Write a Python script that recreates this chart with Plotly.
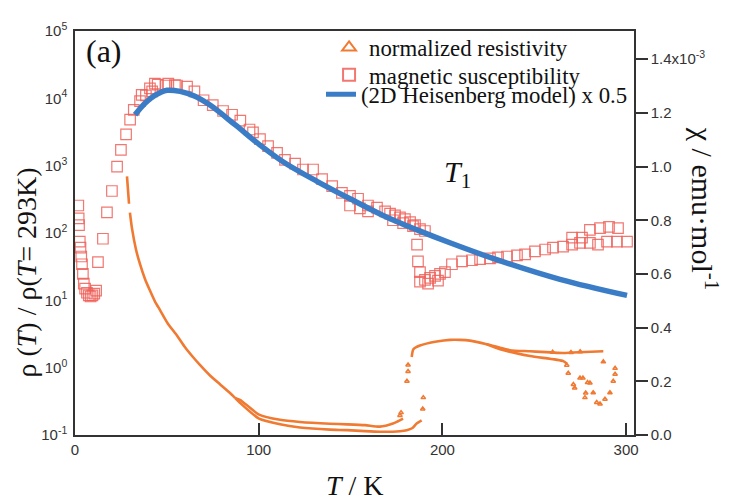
import plotly.graph_objects as go

# ---------------- data ----------------
# magnetic susceptibility (units of 1e-3 emu/mol)
chi_T = [1.8, 2.0, 2.2, 2.6, 3.0, 3.4, 3.8, 4.3, 4.8, 5.5, 6.5, 7.5, 8.5, 9.5, 10.5, 11.5,
         12.5, 15.2, 17.4, 20.1, 22.9, 25.0, 27.8, 30.0, 32.0, 35.4, 36.3, 38.6, 40.8, 42.0,
         43.5, 45.0, 49.5, 50.8, 54.4, 55.5, 61.0, 65.0, 70.0, 75.0, 80.6, 85.5, 90.0, 95.0,
         96.9, 100.7, 105.1, 110.0, 114.3, 119.8, 124.1, 129.6, 134.5, 140.0, 145.3, 149.7,
         149.7, 154.1, 155.1, 159.5, 159.5, 164.4, 168.8,
         171.5, 173.1, 174.2, 176.9, 178.6, 179.6, 182.4, 184.0, 185.1, 187.8, 190.5,
         186.2, 186.7, 187.8, 187.8, 190.5, 192.2, 193.3, 196.0, 197.6, 198.7, 201.4,
         205.2, 210.7, 216.1, 220.5, 225.9, 230.3, 235.2, 240.6, 245.0, 250.4, 255.9, 260.2,
         265.7, 270.6, 274.9, 280.3, 284.7, 289.6, 295.0, 300.5,
         270.6, 276.0, 280.3, 285.8, 290.7, 295.6]
chi_vals = [0.855, 0.807, 0.782, 0.720, 0.698, 0.665, 0.636, 0.600, 0.564, 0.545, 0.530, 0.520, 0.516, 0.520, 0.527, 0.538,
            0.644, 0.731, 0.829, 0.909, 1.000, 1.062, 1.120, 1.175, 1.211, 1.244, 1.267, 1.265, 1.291, 1.280,
            1.309, 1.305, 1.302, 1.309, 1.303, 1.302, 1.298, 1.280, 1.247, 1.229, 1.207, 1.193, 1.171, 1.138,
            1.127, 1.102, 1.076, 1.051, 1.025, 1.011, 0.989, 0.989, 0.953, 0.927, 0.902, 0.891,
            0.855, 0.880, 0.844, 0.855, 0.833, 0.847, 0.833,
            0.825, 0.800, 0.818, 0.811, 0.789, 0.804, 0.793, 0.778, 0.782, 0.767, 0.760,
            0.709, 0.647, 0.607, 0.571, 0.578, 0.564, 0.585, 0.593, 0.575, 0.600, 0.607,
            0.636, 0.647, 0.651, 0.655, 0.658, 0.662, 0.665, 0.669, 0.673, 0.684, 0.691, 0.698,
            0.702, 0.709, 0.716, 0.716, 0.709, 0.720, 0.720, 0.720,
            0.735, 0.735, 0.764, 0.771, 0.775, 0.771]

# 2D Heisenberg model x 0.5 (units of 1e-3 emu/mol)
model_T = [32.7, 38.1, 43.5, 50.1, 57.2, 65.3, 73.5, 87.1, 100.7, 113.2, 131.7, 149.7,
           167.7, 186.2, 204.1, 227.5, 264.0, 300.5]
model_chi = [1.193, 1.236, 1.265, 1.284, 1.280, 1.262, 1.229, 1.156, 1.080, 1.018, 0.945, 0.880,
             0.818, 0.764, 0.716, 0.658, 0.580, 0.520]

# normalized resistivity rho(T)/rho(293 K)
rho_common_T = [28.3, 28.9, 29.4, None, 29.9, 31.0, 33.2, 35.4, 38.1, 40.8, 43.5, 46.3, 50.6, 55.5,
                59.9, 64.2, 68.0, 73.5, 78.9, 84.4, 87.1]
rho_common = [693, 420, 272, None, 201, 118, 56.8, 34.4, 20.8, 14.0, 9.68, 7.16, 4.49, 3.01,
              2.01, 1.44, 1.10, 0.766, 0.568, 0.420, 0.356]
rho_up_T = [87.1, 89.8, 100.2, 111.6, 122.5, 138.8, 148.1, 157.9, 166.0, 173.1, 175.8, 178.6]
rho_up = [0.356, 0.333, 0.201, 0.168, 0.156, 0.147, 0.144, 0.140, 0.133, 0.148, 0.160, 0.175]
rho_low_T = [87.1, 89.8, 100.2, 111.6, 122.5, 138.8, 148.1, 157.9, 166.0, 176.9, 180.6, 183.5, 186.0, 188.7]
rho_low = [0.356, 0.301, 0.175, 0.144, 0.129, 0.120, 0.118, 0.114, 0.112, 0.114, 0.118, 0.126, 0.148, 0.165]
rho_high_T = [183.3, 184.2, 187.8, 196.9, 204.1, 209.6, 215.0, 224.1, 231.4, 236.8, 247.7, 265.8, 277.6, 287.6]
rho_high = [1.44, 1.88, 2.13, 2.44, 2.59, 2.59, 2.52, 2.23, 1.98, 1.82, 1.75, 1.65, 1.71, 1.75]
rho_ret_T = [224.1, 231.4, 247.7, 265.8, 267.8]
rho_ret = [2.23, 1.88, 1.49, 1.25, 1.14]
rho_pts_T = [176.9, 177.5, 180.7, 181.3, 181.3, 189.3, 189.6, 267.7, 268.5, 271.3, 272.0, 274.9, 276.5,
             277.6, 278.0, 279.0, 280.3, 282.1, 284.0, 285.8, 287.6, 288.5, 291.2, 293.0, 294.0,
             294.0, 260.0, 270.0, 275.0]
rho_pts = [0.195, 0.215, 0.627, 0.875, 1.10, 0.244, 0.359, 1.09, 0.826, 0.561, 0.50, 0.700, 0.700,
           0.359, 0.42, 0.60, 0.592, 0.425, 0.304, 0.288, 1.22, 0.340, 0.425, 0.627, 0.977,
           0.80, 1.70, 1.68, 1.72]

x_ticks = [0, 100, 200, 300]
rho_tickvals = [0.1, 1, 10, 100, 1000, 10000, 100000]
rho_ticktext = ["10<sup>-1</sup>", "10<sup>0</sup>", "10<sup>1</sup>", "10<sup>2</sup>",
                "10<sup>3</sup>", "10<sup>4</sup>", "10<sup>5</sup>"]
chi_tickvals = [0.0, 0.2, 0.4, 0.6, 0.8, 1.0, 1.2, 1.4]
chi_ticktext = ["0.0", "0.2", "0.4", "0.6", "0.8", "1.0", "1.2", "1.4x10<sup>-3</sup>"]

# ---------------- styles ----------------
ORANGE = "#f07a32"
RED = "rgba(238,95,88,0.85)"
BLUE = "#3a7dc6"
AXIS = "#333333"
SERIF = "Liberation Serif, Times New Roman, serif"
SANS = "Liberation Sans, Arial, sans-serif"
LEG_FONT = dict(family=SERIF, size=22.8, color="#111111")

fig = go.Figure()

fig.add_trace(go.Scatter(x=chi_T, y=chi_vals, mode="markers", yaxis="y2",
                         name="magnetic susceptibility", legend="legend2",
                         marker=dict(symbol="square-open", size=10.5, color=RED,
                                     line=dict(width=1.2, color=RED))))
fig.add_trace(go.Scatter(x=model_T, y=model_chi, mode="lines", yaxis="y2",
                         name="(2D Heisenberg model) x 0.5", legend="legend3",
                         line=dict(color=BLUE, width=5.5, shape="spline")))

for xs, ys in [(rho_common_T, rho_common), (rho_up_T, rho_up), (rho_low_T, rho_low),
               (rho_high_T, rho_high), (rho_ret_T, rho_ret)]:
    fig.add_trace(go.Scatter(x=xs, y=ys, mode="lines", showlegend=False,
                             line=dict(color=ORANGE, width=2.6, shape="spline", smoothing=0.6)))
fig.add_trace(go.Scatter(x=rho_pts_T, y=rho_pts, mode="markers",
                         name="normalized resistivity", legend="legend",
                         marker=dict(symbol="triangle-up-open", size=4, color=ORANGE,
                                     line=dict(width=1.5, color=ORANGE))))

leg_common = dict(xanchor="left", yanchor="middle", bgcolor="rgba(0,0,0,0)",
                  itemsizing="constant", font=LEG_FONT)

fig.update_layout(
    width=721, height=492,
    margin=dict(l=67, r=95, t=13, b=65),
    paper_bgcolor="white", plot_bgcolor="white",
    font=dict(family=SANS, color=AXIS, size=15),
    showlegend=True,
    legend=dict(x=0.4545, y=0.959, **leg_common),
    legend2=dict(x=0.4545, y=0.891, **leg_common),
    legend3=dict(x=0.4401, y=0.843, **leg_common),
    xaxis=dict(range=[0, 304.3], tickvals=x_ticks, ticks="inside", ticklen=12,
               tickwidth=1.5, tickcolor=AXIS, showline=True, linecolor=AXIS,
               linewidth=1.5, mirror=True, showgrid=False, zeroline=False,
               tickfont=dict(family=SANS, size=15, color=AXIS)),
    yaxis=dict(type="log", range=[-1, 5], tickvals=rho_tickvals, ticktext=rho_ticktext,
               ticks="", showline=True, linecolor=AXIS, linewidth=1.5,
               showgrid=False, zeroline=False, ticklabelstandoff=3,
               tickfont=dict(family=SANS, size=15, color=AXIS)),
    yaxis2=dict(overlaying="y", side="right", range=[0, 1.505], tickvals=chi_tickvals,
                ticktext=chi_ticktext, ticks="outside", ticklen=12, tickwidth=1.5,
                tickcolor=AXIS, showline=True, linecolor=AXIS, linewidth=1.5,
                showgrid=False, zeroline=False,
                tickfont=dict(family=SANS, size=15, color=AXIS)),
    annotations=[
        dict(text="(a)", xref="paper", yref="paper", x=0.016, y=0.95,
             xanchor="left", yanchor="middle", showarrow=False,
             font=dict(family=SERIF, size=32, color="#111111")),
        dict(text="<i>T</i><sub>1</sub>", xref="paper", yref="paper", x=0.685, y=0.645,
             xanchor="center", yanchor="middle", showarrow=False,
             font=dict(family=SERIF, size=30, color="#111111")),
        dict(text="<i>T</i> / K", xref="paper", yref="paper", x=0.5, y=-0.126,
             xanchor="center", yanchor="middle", showarrow=False,
             font=dict(family=SERIF, size=28, color="#111111")),
        dict(text="ρ (<i>T</i>) / ρ(<i>T</i>= 293K)", xref="paper", yref="paper",
             x=-0.087, y=0.403, xanchor="center", yanchor="middle", showarrow=False,
             textangle=-90, font=dict(family=SERIF, size=28, color="#111111")),
        dict(text="χ / emu·mol<sup>-1</sup>", xref="paper", yref="paper",
             x=1.127, y=0.56, xanchor="center", yanchor="middle", showarrow=False,
             textangle=90, font=dict(family=SERIF, size=30, color="#111111")),
    ],
)

fig.write_html("out.html")
